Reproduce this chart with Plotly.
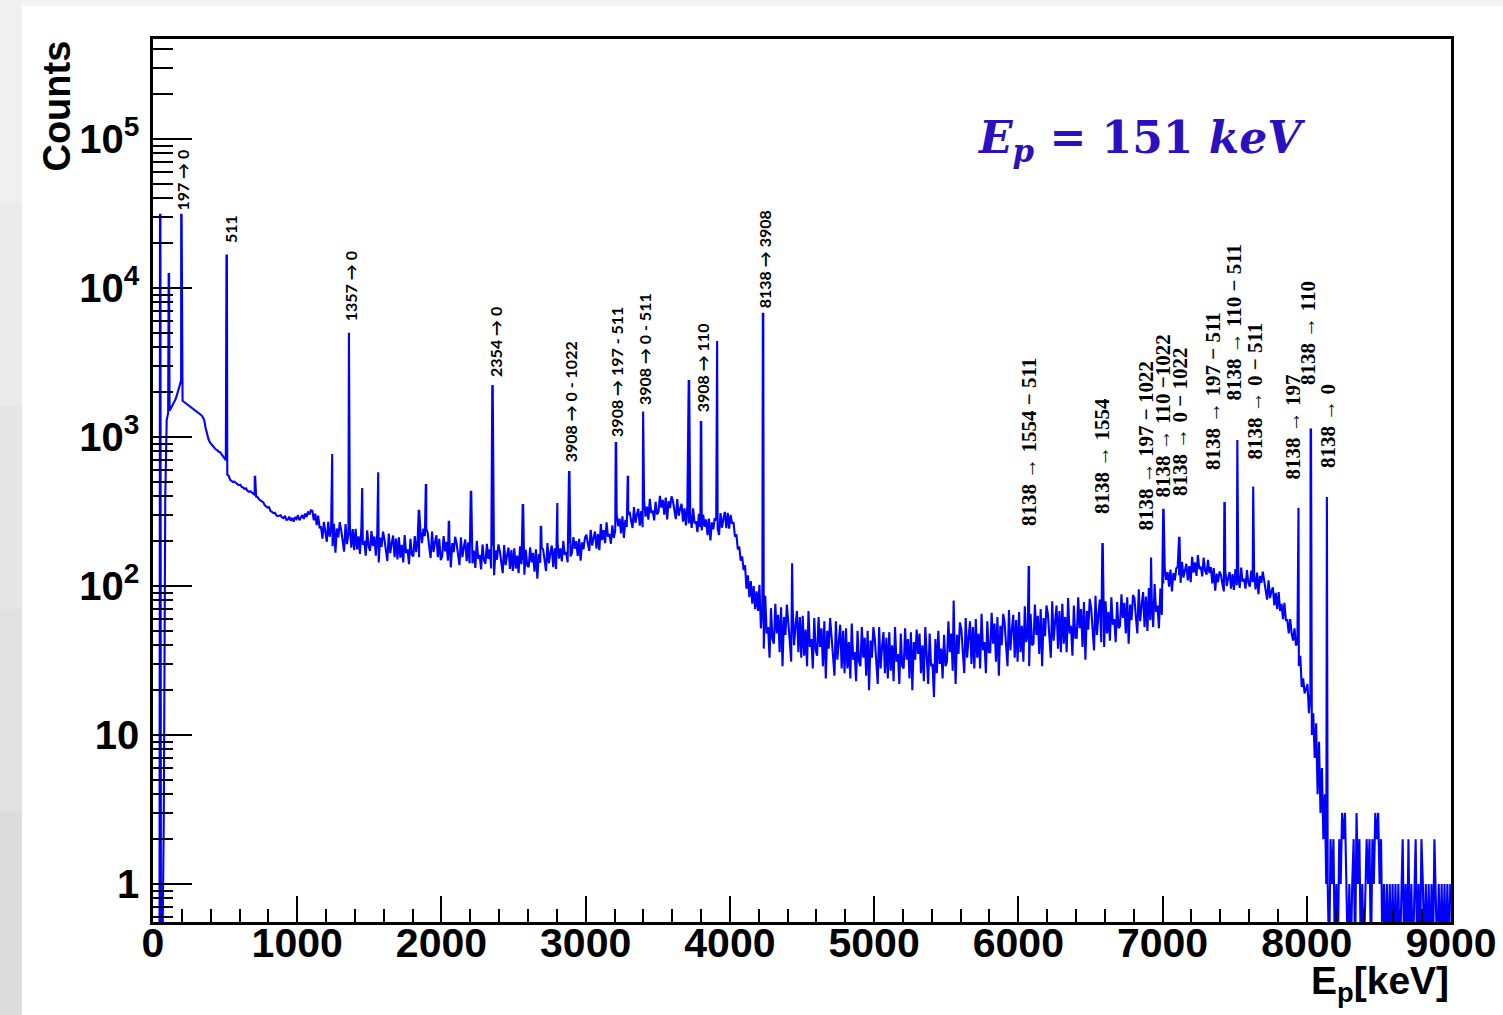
import numpy as np
import plotly.graph_objects as go

# ---------------- data ----------------
# spectrum, 10 keV bins starting at 0 keV (counts per bin); one row = 100 keV
bin_width_keV = 10
counts = [
    0, 0, 0, 0, 0, 0, 0, 3, 400, 1300,
    1450, 1500, 1560, 1620, 1700, 1780, 1900, 2050, 2200, 2400,
    1750, 1720, 1695, 1660, 1640, 1615, 1580, 1565, 1540, 1510,
    1480, 1465, 1425, 1400, 1360, 1300, 1150, 1050, 965, 920,
    895, 868, 852, 826, 818, 796, 792, 765, 742, 722,
    700, 560, 548, 515, 508, 498, 502, 488, 482, 475,
    478, 462, 458, 448, 452, 436, 428, 432, 422, 415,
    408, 398, 396, 382, 376, 368, 364, 348, 342, 336,
    338, 318, 314, 308, 310, 298, 294, 296, 298, 288,
    285, 296, 278, 280, 292, 274, 286, 270, 290, 282,
    298, 276, 288, 300, 282, 306, 290, 316, 302, 322,
    320, 276, 306, 256, 297, 247, 248, 208, 269, 219,
    198, 270, 214, 248, 185, 261, 167, 243, 212, 268,
    237, 200, 170, 260, 191, 224, 252, 181, 241, 174,
    242, 176, 215, 164, 250, 189, 201, 160, 236, 185,
    172, 234, 185, 215, 160, 226, 144, 211, 183, 232,
    205, 173, 147, 225, 166, 193, 218, 156, 208, 151,
    212, 155, 189, 144, 220, 166, 176, 140, 207, 162,
    158, 216, 169, 204, 156, 232, 194, 243, 216, 242,
    226, 184, 154, 232, 169, 196, 219, 156, 207, 149,
    158, 216, 171, 198, 148, 209, 133, 194, 169, 214,
    193, 163, 138, 212, 156, 182, 205, 147, 196, 142,
    195, 142, 173, 132, 201, 152, 162, 129, 190, 149,
    141, 192, 152, 176, 131, 186, 118, 173, 150, 190,
    171, 144, 122, 188, 138, 161, 181, 130, 174, 126,
    179, 131, 160, 122, 185, 140, 149, 119, 175, 137,
    134, 182, 144, 167, 125, 176, 112, 164, 143, 181,
    176, 149, 126, 194, 142, 166, 187, 134, 179, 130,
    196, 153, 179, 146, 201, 162, 169, 144, 193, 158,
    167, 213, 178, 200, 159, 207, 148, 196, 176, 211,
    221, 193, 172, 238, 187, 211, 232, 178, 223, 174,
    260, 203, 237, 194, 267, 214, 223, 192, 255, 210,
    236, 301, 252, 283, 225, 293, 210, 278, 249, 299,
    315, 274, 245, 339, 266, 301, 330, 254, 318, 248,
    374, 292, 341, 279, 384, 308, 321, 276, 367, 302,
    315, 403, 336, 378, 301, 392, 280, 371, 333, 399,
    373, 320, 281, 383, 296, 330, 356, 270, 332, 255,
    342, 263, 304, 245, 332, 263, 271, 230, 305, 248,
    236, 301, 250, 280, 219, 283, 202, 267, 240, 285,
    275, 243, 220, 309, 246, 282, 314, 244, 310, 243,
    300, 262, 268, 214, 222, 176, 184, 148, 158, 128,
    138, 96, 118, 84, 108, 76, 100, 70, 92, 68,
    102, 52, 70, 38, 86, 48, 53, 33, 71, 44,
    41, 76, 48, 64, 36, 72, 29, 62, 47, 75,
    60, 43, 31, 73, 40, 54, 68, 36, 62, 33,
    63, 34, 51, 29, 68, 39, 44, 28, 61, 37,
    34, 62, 39, 52, 29, 58, 24, 50, 38, 61,
    48, 34, 25, 58, 32, 43, 55, 28, 50, 26,
    52, 28, 42, 24, 56, 32, 36, 23, 50, 31,
    29, 53, 33, 45, 25, 50, 20, 43, 33, 53,
    44, 31, 22, 53, 28, 39, 49, 26, 45, 24,
    49, 27, 40, 23, 53, 31, 35, 22, 48, 29,
    28, 52, 32, 44, 24, 49, 20, 42, 32, 51,
    35, 48, 26, 40, 23, 53, 31, 22, 48, 29,
    30, 18, 44, 26, 50, 30, 38, 24, 47, 29,
    31, 58, 36, 48, 27, 54, 22, 47, 35, 57,
    51, 36, 26, 61, 33, 45, 58, 30, 53, 28,
    60, 33, 48, 28, 65, 37, 42, 26, 58, 36,
    36, 66, 41, 56, 31, 62, 25, 54, 40, 65,
    57, 40, 29, 69, 37, 51, 64, 33, 59, 31,
    67, 36, 54, 31, 73, 42, 47, 29, 65, 40,
    41, 75, 47, 63, 35, 70, 29, 61, 46, 74,
    65, 46, 33, 79, 43, 58, 74, 38, 68, 36,
    76, 41, 62, 36, 83, 48, 54, 34, 74, 45,
    45, 84, 52, 70, 39, 78, 32, 68, 51, 82,
    71, 51, 37, 86, 47, 64, 81, 42, 74, 39,
    79, 48, 67, 43, 84, 55, 60, 42, 78, 52,
    54, 88, 61, 77, 48, 84, 41, 75, 59, 87,
    83, 62, 48, 95, 58, 74, 91, 53, 85, 50,
    97, 59, 82, 53, 103, 67, 74, 52, 96, 64,
    104, 132, 110, 124, 99, 129, 92, 122, 109, 131,
    135, 118, 105, 145, 114, 129, 141, 109, 136, 106,
    157, 123, 144, 117, 161, 130, 135, 116, 155, 127,
    119, 150, 122, 134, 104, 132, 93, 121, 106, 125,
    119, 103, 92, 128, 100, 113, 124, 96, 120, 94,
    130, 101, 119, 97, 133, 107, 112, 96, 128, 105,
    99, 127, 106, 119, 95, 123, 88, 117, 105, 125,
    108, 92, 81, 109, 83, 92, 98, 74, 90, 70,
    91, 68, 76, 60, 77, 59, 59, 48, 60, 48,
    43, 52, 40, 41, 29, 34, 21, 24, 19, 21,
    22, 14, 19, 10, 14, 7, 12, 4, 9, 3,
    6, 2, 4, 1, 1, 0, 2, 1, 2, 0,
    1, 0, 2, 1, 3, 2, 3, 1, 0, 1,
    0, 1, 2, 0, 3, 1, 2, 0, 1, 0,
    1, 2, 1, 2, 0, 2, 1, 3, 2, 3,
    1, 2, 0, 1, 0, 1, 0, 1, 0, 1,
    0, 1, 0, 1, 0, 1, 2, 0, 1, 0,
    2, 0, 1, 0, 1, 2, 0, 1, 0, 2,
    1, 0, 1, 0, 1, 0, 1, 0, 2, 1,
    0, 1, 0, 1, 0, 1, 0, 1, 0, 1,
]

# gamma lines (energy in keV, peak counts)
peak_energy_keV = [50, 110, 197, 511, 707, 1241, 1357, 1449, 1560, 1844, 1893,
                   2052, 2205, 2354, 2565, 2690, 2802, 2886, 3210, 3293, 3397,
                   3716, 3800, 3910, 4230, 4430, 5550, 6073, 6584, 6919, 7006,
                   7116, 7430, 7517, 7627, 7941, 8028, 8138]
peak_counts = [31000, 12400, 31000, 16500, 540, 770, 5000, 455, 580, 325, 475,
               270, 435, 2230, 355, 250, 360, 590, 910, 540, 1480,
               2410, 1260, 4400, 6700, 142, 80, 134, 194, 155, 330,
               214, 360, 955, 465, 335, 1120, 395]

# peak labels
labels_sans = ["197 \u2192 0", "511", "1357 \u2192 0", "2354 \u2192 0",
               "3908 \u2192 0 - 1022", "3908 \u2192 197 - 511", "3908 \u2192 0 - 511",
               "3908 \u2192 110", "8138 \u2192 3908"]
labels_sans_keV = [208, 534, 1366, 2371, 2891, 3217, 3412, 3807, 4237]
labels_sans_counts = [31800, 19400, 5800, 2450, 660, 970, 1590, 1410, 7100]

labels_serif = ["8138 \u2192 1554 \u2212 511", "8138 \u2192 1554",
                "8138 \u2192 197 \u2212 1022", "8138 \u2192 110 \u22121022",
                "8138 \u2192 0 \u2212 1022", "8138 \u2192 197 \u2212 511",
                "8138 \u2192 110 \u2212 511", "8138 \u2192 0 \u2212 511",
                "8138 \u2192 197", "8138 \u2192 110", "8138 \u2192 0"]
labels_serif_keV = [6074, 6580, 6885, 7003, 7121, 7350, 7489, 7641, 7905, 8009, 8147]
labels_serif_counts = [245, 295, 230, 384, 390, 582, 1690, 680, 500, 2170, 600]

x_tickvals = [0, 1000, 2000, 3000, 4000, 5000, 6000, 7000, 8000, 9000]
y_tickvals = [1, 10, 100, 1000, 10000, 100000]
y_ticktext = ["1", "10", "10<sup>2</sup>", "10<sup>3</sup>", "10<sup>4</sup>", "10<sup>5</sup>"]

# ---------------- build the spectrum trace ----------------
bin_x = np.arange(len(counts)) * bin_width_keV + bin_width_keV / 2
pk_e = np.array(peak_energy_keV, dtype=float)
pk_x = np.concatenate([pk_e - 1.5, pk_e + 1.5])
pk_y = np.concatenate([peak_counts, peak_counts])

xs = np.concatenate([bin_x, pk_x]).astype(float)
ys = np.concatenate([counts, pk_y]).astype(float)
order = np.argsort(xs, kind="stable")
xs, ys = xs[order], ys[order]
ys_plot = np.where(ys > 0, ys, 0.3)  # empty bins drawn down to the frame

fig = go.Figure()
fig.add_trace(go.Scatter(x=xs, y=ys_plot, mode="lines",
                         line=dict(color="#0000ff", width=2.1),
                         hoverinfo="skip", showlegend=False))

SANS = "Liberation Sans, Arial, Helvetica"

minor_y = []
for d in range(-1, 6):
    for m in range(2, 10):
        v = m * 10.0 ** d
        if 0.55 < v < 4.7e5:
            minor_y.append(v)

fig.update_layout(
    width=1503, height=1015,
    margin=dict(l=153, r=52, t=39, b=93, autoexpand=False),
    paper_bgcolor="white", plot_bgcolor="white",
    showlegend=False,
    xaxis=dict(range=[0, 9000], showgrid=False, zeroline=False, automargin=False,
               showline=True, linecolor="black", linewidth=2.5, mirror=True,
               ticks="inside", ticklen=26, tickwidth=1.5, tickcolor="black",
               tickmode="array", tickvals=x_tickvals, ticklabeloverflow="allow",
               minor=dict(ticks="inside", ticklen=13, tickwidth=1.5,
                          tickcolor="black", tick0=0, dtick=200),
               tickfont=dict(family=SANS, size=41, color="black", weight="bold"),
               ticklabelstandoff=-17),
    yaxis=dict(type="log", range=[-0.255, 5.671], showgrid=False, zeroline=False,
               automargin=False,
               showline=True, linecolor="black", linewidth=2.5, mirror=True,
               ticks="inside", ticklen=39, tickwidth=1.5, tickcolor="black",
               tickmode="array", tickvals=y_tickvals, ticktext=y_ticktext,
               minor=dict(ticks="inside", ticklen=20, tickwidth=1.5,
                          tickcolor="black", tickmode="array", tickvals=minor_y),
               tickfont=dict(family=SANS, size=40, color="black", weight="bold"),
               ticklabelstandoff=3),
)

ann = []
for t, e, c in zip(labels_sans, labels_sans_keV, labels_sans_counts):
    ann.append(dict(x=e, y=np.log10(c), xref="x", yref="y", text=t, showarrow=False,
                    textangle=-90, xanchor="center", yanchor="bottom",
                    font=dict(family="Lato", size=16, color="black", weight="bold")))
for t, e, c in zip(labels_serif, labels_serif_keV, labels_serif_counts):
    ann.append(dict(x=e, y=np.log10(c), xref="x", yref="y", text=t, showarrow=False,
                    textangle=-90, xanchor="center", yanchor="bottom",
                    font=dict(family="Liberation Serif", size=21, color="black", weight="bold")))

ann.append(dict(x=-0.0747, y=1.0, xref="paper", yref="paper", text="Counts",
                showarrow=False, textangle=-90, xanchor="center", yanchor="top",
                font=dict(family=SANS, size=38, color="black", weight="bold")))
ann.append(dict(x=1.0, y=-0.0396, xref="paper", yref="paper", text="E<sub>p</sub>[keV]",
                showarrow=False, xanchor="right", yanchor="top",
                font=dict(family=SANS, size=39, color="black", weight="bold")))
ann.append(dict(x=0.6333, y=0.8856, xref="paper", yref="paper",
                text="<i>E<sub>p</sub></i> = 151 <i>keV</i>",
                showarrow=False, xanchor="left", yanchor="middle",
                font=dict(family="DejaVu Serif", size=44, color="#2A10C0", weight="bold")))
fig.update_layout(annotations=ann)

# slide background strips around the chart
def px_x(p):
    return (p - 153) / 1298.0

def px_y(q):
    return 1 - (q - 39) / 883.0

shapes = [
    dict(type="rect", xref="paper", yref="paper", x0=px_x(0), x1=px_x(1503),
         y0=px_y(6), y1=px_y(0), fillcolor="#f4f4f4", line=dict(width=0), layer="below"),
]
grays = ["#f0f0f0", "#ebebeb", "#e6e6e6", "#e1e1e1", "#dcdcdc"]
for i, g in enumerate(grays):
    shapes.append(dict(type="rect", xref="paper", yref="paper", x0=px_x(0), x1=px_x(22),
                       y0=px_y(203 * (i + 1)), y1=px_y(203 * i),
                       fillcolor=g, line=dict(width=0), layer="below"))
fig.update_layout(shapes=shapes)

fig.write_html("out.html", config={"displayModeBar": False})
